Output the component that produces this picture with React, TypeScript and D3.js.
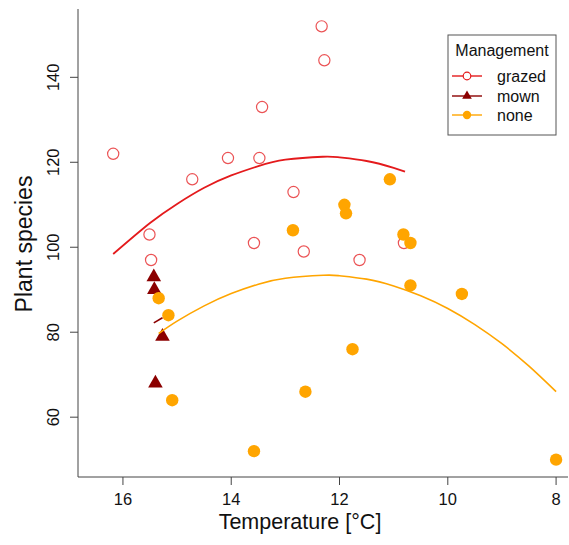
import React from "react";
import * as d3 from "d3";

// Observed plant species richness by mean temperature, per management type
const grazedTemp = [16.18, 14.72, 14.06, 13.48, 15.51, 15.48, 13.58, 13.43, 12.33, 12.28, 12.85, 12.66, 11.63, 10.81];
const grazedSpecies = [122, 116, 121, 121, 103, 97, 101, 133, 152, 144, 113, 99, 97, 101];

const mownTemp = [15.43, 15.42, 15.27, 15.4];
const mownSpecies = [93, 90, 79, 68];

const noneTemp = [15.34, 15.16, 15.09, 13.58, 12.63, 11.76, 8.0, 11.07, 11.91, 11.88, 12.86, 10.82, 10.69, 10.69, 9.74];
const noneSpecies = [88, 84, 64, 52, 66, 76, 50, 116, 110, 108, 104, 103, 101, 91, 89];

// Fitted (quadratic) trend per management type, sampled along temperature
const grazedFitTemp = [16.18, 15.5, 15, 14.5, 14, 13.5, 13, 12.31, 12, 11.5, 11, 10.79];
const grazedFitSpecies = [98.4, 105.7, 110.2, 114.0, 116.9, 119.1, 120.6, 121.3, 121.15, 120.3, 118.7, 117.8];

const mownFitTemp = [15.43, 15.27];
const mownFitSpecies = [82.2, 83.4];

const noneFitTemp = [15.34, 15, 14.5, 14, 13.5, 13, 12.3, 12, 11.5, 11, 10.5, 10, 9.5, 9, 8.5, 8];
const noneFitSpecies = [79.7, 82.6, 86.2, 89.1, 91.3, 92.7, 93.4, 93.3, 92.5, 90.9, 88.6, 85.6, 81.8, 77.3, 72.0, 66.0];

const xTicks = [16, 14, 12, 10, 8];
const yTicks = [60, 80, 100, 120, 140];

const legendLabels = ["grazed", "mown", "none"];

const RED = "#E41A1C";
const DARKRED = "#8B0000";
const ORANGE = "#FFA500";
const AXIS = "#444";
const FONT = "'Liberation Sans', Arial, sans-serif";

const W = 569;
const H = 545;

export default function App() {
  const x = d3.scaleLinear().domain([16.83, 7.78]).range([78, 568]);
  const y = d3.scaleLinear().domain([45.92, 156.08]).range([477, 9]);

  const line = d3
    .line<[number, number]>()
    .x((d) => x(d[0]))
    .y((d) => y(d[1]))
    .curve(d3.curveNatural);

  const zip = (a: number[], b: number[]) => a.map((v, i) => [v, b[i]] as [number, number]);

  const tri = d3.symbol().type(d3.symbolTriangle).size(92)() as string;
  const triSmall = d3.symbol().type(d3.symbolTriangle).size(40)() as string;

  const legendX = 448;
  const legendY = 35;
  const legendRows = [76, 96, 115];

  return (
    <svg
      width={W}
      height={H}
      style={{ position: "absolute", left: 0, top: 0, background: "#fff" }}
      fontFamily={FONT}
    >
      {/* axes */}
      <line x1={78} x2={78} y1={9} y2={477} stroke={AXIS} strokeWidth={1} />
      <line x1={78} x2={568} y1={477} y2={477} stroke={AXIS} strokeWidth={1} />
      {xTicks.map((t) => (
        <g key={"x" + t}>
          <line x1={x(t)} x2={x(t)} y1={477} y2={485} stroke={AXIS} />
          <text x={x(t)} y={505} textAnchor="middle" fontSize={16.5} fill="#111">
            {t}
          </text>
        </g>
      ))}
      {yTicks.map((t) => (
        <g key={"y" + t}>
          <line x1={70} x2={78} y1={y(t)} y2={y(t)} stroke={AXIS} />
          <text
            transform={`translate(59,${y(t)}) rotate(-90)`}
            textAnchor="middle"
            fontSize={16.5}
            fill="#111"
          >
            {t}
          </text>
        </g>
      ))}
      <text x={300} y={529} textAnchor="middle" fontSize={21.5} fill="#111">
        Temperature [°C]
      </text>
      <text
        transform={`translate(32,244) rotate(-90)`}
        textAnchor="middle"
        fontSize={23}
        fill="#111"
      >
        Plant species
      </text>

      {/* points */}
      {grazedTemp.map((t, i) => (
        <circle
          key={"g" + i}
          cx={x(t)}
          cy={y(grazedSpecies[i])}
          r={5.6}
          fill="none"
          stroke={RED}
          strokeOpacity={0.75}
          strokeWidth={1.2}
        />
      ))}
      {mownTemp.map((t, i) => (
        <path key={"m" + i} d={tri} transform={`translate(${x(t)},${y(mownSpecies[i])})`} fill={DARKRED} />
      ))}
      {noneTemp.map((t, i) => (
        <circle key={"n" + i} cx={x(t)} cy={y(noneSpecies[i])} r={6.2} fill={ORANGE} />
      ))}

      {/* fitted trends */}
      <path d={line(zip(grazedFitTemp, grazedFitSpecies)) || ""} fill="none" stroke={RED} strokeWidth={1.8} />
      <path d={line(zip(mownFitTemp, mownFitSpecies)) || ""} fill="none" stroke={DARKRED} strokeWidth={1.6} />
      <path d={line(zip(noneFitTemp, noneFitSpecies)) || ""} fill="none" stroke={ORANGE} strokeWidth={1.6} />

      {/* legend */}
      <rect x={legendX} y={legendY} width={108} height={100} fill="#fff" stroke="#555" strokeWidth={1} />
      <text x={502} y={56} textAnchor="middle" fontSize={16} fill="#111">
        Management
      </text>
      {legendLabels.map((lab, i) => {
        const ly = legendRows[i];
        const col = i === 0 ? RED : i === 1 ? DARKRED : ORANGE;
        return (
          <g key={lab}>
            <line x1={452} x2={482} y1={ly} y2={ly} stroke={col} strokeWidth={1.4} />
            {i === 0 && <circle cx={467} cy={ly} r={3.8} fill="#fff" stroke={RED} strokeWidth={1.2} />}
            {i === 1 && <path d={triSmall} transform={`translate(467,${ly})`} fill={DARKRED} />}
            {i === 2 && <circle cx={467} cy={ly} r={4.2} fill={ORANGE} />}
            <text x={497} y={ly + 5.5} fontSize={16} fill="#111">
              {lab}
            </text>
          </g>
        );
      })}
    </svg>
  );
}
